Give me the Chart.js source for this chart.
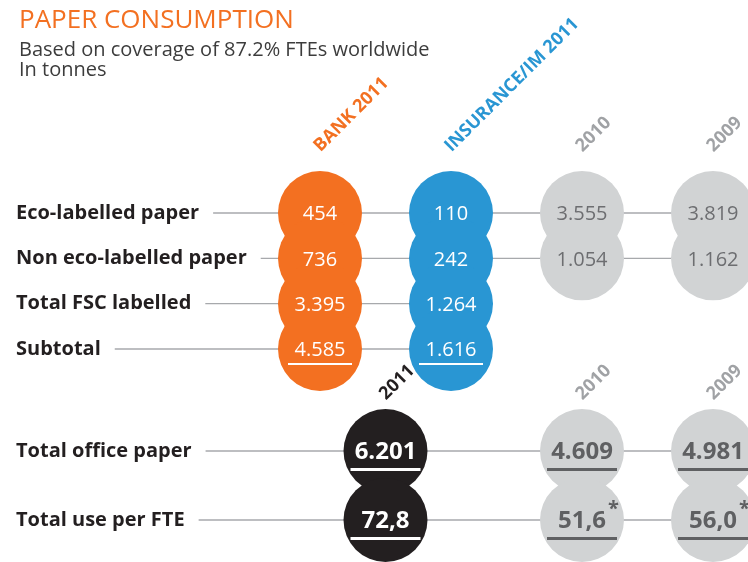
<!DOCTYPE html>
<html>
<head>
<meta charset="utf-8">
<script src="https://cdn.jsdelivr.net/npm/chart.js@4"></script>
<style>
html,body{margin:0;padding:0;background:#fff;}
#wrap{position:relative;width:748px;height:562px;overflow:hidden;}
canvas{display:block;}
</style>
</head>
<body>
<div id="wrap"><canvas id="c" width="748" height="562"></canvas></div>
<script>
// ---------- DATA ----------
const titleText = "PAPER CONSUMPTION";
const subtitleLines = ["Based on coverage of 87.2% FTEs worldwide", "In tonnes"];

const rowLabelsTop = ["Eco-labelled paper", "Non eco-labelled paper", "Total FSC labelled", "Subtotal"];
const columnsTop = ["BANK 2011", "INSURANCE/IM 2011", "2010", "2009"];
const bank2011 = [454, 736, 3395, 4585];
const insurance2011 = [110, 242, 1264, 1616];
const group2010 = [3555, 1054];
const group2009 = [3819, 1162];

const rowLabelsBottom = ["Total office paper", "Total use per FTE"];
const columnsBottom = ["2011", "2010", "2009"];
const totalOfficePaper = [6201, 4609, 4981];
const totalUsePerFte = [72.8, 51.6, 56.0];
const perFteFootnote = ["", "*", "*"];

// ---------- STYLE / LAYOUT ----------
const FONT = '"Open Sans", "Noto Sans", "DejaVu Sans", sans-serif';
const ORANGE = '#f37021', BLUE = '#2996d3', GRAY = '#d1d3d4', BLACK = '#231f20';
const LINE = '#a7a9ac';
const W = 748, H = 562;
const RADIUS = 42;
const topSlots = [0, 1, 2, 3];        // column slots of the upper block
const bottomSlots = [0.5, 2, 3];      // column slots of the lower block

// scale ranges: map slot/row units to the canvas
function range(v0, p0, v1, p1, size) {
  const per = (p1 - p0) / (v1 - v0);
  const min = v0 - p0 / per;
  return { min, max: min + size / per };
}
const xR = range(0, 320, 3, 713, W);
const yTopR = range(0, 213, 3, 349, H);
const yBotR = range(0, 451, 1, 520, H);

function fmt(v, dec) {
  const s = v.toFixed(dec);
  let [i, d] = s.split('.');
  i = i.replace(/\B(?=(\d{3})+(?!\d))/g, '.');
  return d ? i + ',' + d : i;
}

function pts(values, slot, opts) {
  return values.map((v, i) => Object.assign({ x: slot, y: i, v }, opts ? opts(i) : {}));
}

const datasets = [
  { label: columnsTop[0], data: pts(bank2011, topSlots[0], i => ({ ul: i === 3 })), yAxisID: 'yTop',
    backgroundColor: ORANGE, textColor: '#ffffff', bold: false, headerColor: ORANGE },
  { label: columnsTop[1], data: pts(insurance2011, topSlots[1], i => ({ ul: i === 3 })), yAxisID: 'yTop',
    backgroundColor: BLUE, textColor: '#ffffff', bold: false, headerColor: BLUE },
  { label: columnsTop[2], data: pts(group2010, topSlots[2]), yAxisID: 'yTop',
    backgroundColor: GRAY, textColor: '#6d6e71', bold: false, headerColor: '#a0a2a5' },
  { label: columnsTop[3], data: pts(group2009, topSlots[3]), yAxisID: 'yTop',
    backgroundColor: GRAY, textColor: '#6d6e71', bold: false, headerColor: '#a0a2a5' }
];
columnsBottom.forEach((c, k) => {
  datasets.push({
    label: c,
    data: [
      { x: bottomSlots[k], y: 0, v: totalOfficePaper[k], dec: 0, ul: true },
      { x: bottomSlots[k], y: 1, v: totalUsePerFte[k], dec: 1, ul: true, note: perFteFootnote[k] }
    ],
    yAxisID: 'yBot',
    backgroundColor: k === 0 ? BLACK : GRAY,
    textColor: k === 0 ? '#ffffff' : '#5f6062',
    bold: true,
    headerColor: k === 0 ? BLACK : '#a0a2a5',
    bottom: true
  });
});
datasets.forEach(d => { d.pointRadius = RADIUS; d.pointHoverRadius = RADIUS; d.borderWidth = 0; d.clip = false; });

const decor = {
  id: 'decor',
  beforeDatasetsDraw(chart) {
    const ctx = chart.ctx;
    const x = chart.scales.x, yT = chart.scales.yTop, yB = chart.scales.yBot;
    ctx.save();
    // title
    ctx.fillStyle = ORANGE;
    ctx.font = `400 26px ${FONT}`;
    ctx.textAlign = 'left'; ctx.textBaseline = 'alphabetic';
    ctx.fillText(titleText, 19, 28);
    ctx.fillStyle = '#3c3c3c';
    ctx.font = `400 20px ${FONT}`;
    subtitleLines.forEach((t, i) => ctx.fillText(t, 19, 55.5 + i * 20));

    // row labels and connector lines
    ctx.font = `700 20px ${FONT}`;
    ctx.textBaseline = 'middle';
    const drawRow = (label, py, endX) => {
      ctx.fillStyle = BLACK;
      ctx.fillText(label, 16, py);
      const w = ctx.measureText(label).width;
      ctx.strokeStyle = LINE; ctx.lineWidth = 1.3;
      ctx.beginPath(); ctx.moveTo(16 + w + 14, py); ctx.lineTo(endX, py); ctx.stroke();
    };
    rowLabelsTop.forEach((l, i) => {
      let last = 0;
      datasets.forEach(d => { if (!d.bottom && d.data[i]) last = Math.max(last, d.data[i].x); });
      drawRow(l, yT.getPixelForValue(i), x.getPixelForValue(last));
    });
    rowLabelsBottom.forEach((l, i) => {
      let last = 0;
      datasets.forEach(d => { if (d.bottom && d.data[i]) last = Math.max(last, d.data[i].x); });
      drawRow(l, yB.getPixelForValue(i), x.getPixelForValue(last));
    });
    ctx.restore();
  },
  afterDatasetsDraw(chart) {
    const ctx = chart.ctx;
    ctx.save();
    chart.data.datasets.forEach((ds, di) => {
      const meta = chart.getDatasetMeta(di);
      // column header
      const first = meta.data[0];
      ctx.save();
      ctx.font = `700 18px ${FONT}`;
      ctx.fillStyle = ds.headerColor;
      ctx.textAlign = 'left'; ctx.textBaseline = 'middle';
      ctx.translate(first.x - 3, first.y - RADIUS - (ds.bottom ? 12 : 22));
      ctx.rotate(-Math.PI / 4);
      ctx.fillText(ds.label, 0, 0);
      ctx.restore();
      // values
      meta.data.forEach((pt, i) => {
        const d = ds.data[i];
        const txt = fmt(d.v, d.dec || 0);
        ctx.font = ds.bold ? `700 24px ${FONT}` : `400 20px ${FONT}`;
        ctx.fillStyle = ds.textColor;
        ctx.textAlign = 'center'; ctx.textBaseline = 'middle';
        ctx.fillText(txt, pt.x, pt.y + 1.5);
        const tw = ctx.measureText(txt).width;
        if (d.ul) {
          if (ds.bold) ctx.fillRect(pt.x - 35, pt.y + 17, 70, 3);
          else ctx.fillRect(pt.x - 32, pt.y + 14, 64, 2);
        }
        if (d.note) {
          ctx.font = `700 20px ${FONT}`;
          ctx.textAlign = 'left';
          ctx.fillText(d.note, pt.x + tw / 2 + 2, pt.y - 11);
        }
      });
    });
    ctx.restore();
  }
};

new Chart(document.getElementById('c'), {
  type: 'scatter',
  data: { datasets },
  options: {
    responsive: false,
    devicePixelRatio: 1,
    animation: false,
    events: [],
    layout: { padding: 0, autoPadding: false },
    plugins: { legend: { display: false }, tooltip: { enabled: false }, title: { display: false } },
    scales: {
      x: { type: 'linear', display: false, min: xR.min, max: xR.max },
      yTop: { type: 'linear', display: false, reverse: true, min: yTopR.min, max: yTopR.max },
      yBot: { type: 'linear', display: false, reverse: true, min: yBotR.min, max: yBotR.max }
    }
  },
  plugins: [decor]
});
</script>
</body>
</html>
